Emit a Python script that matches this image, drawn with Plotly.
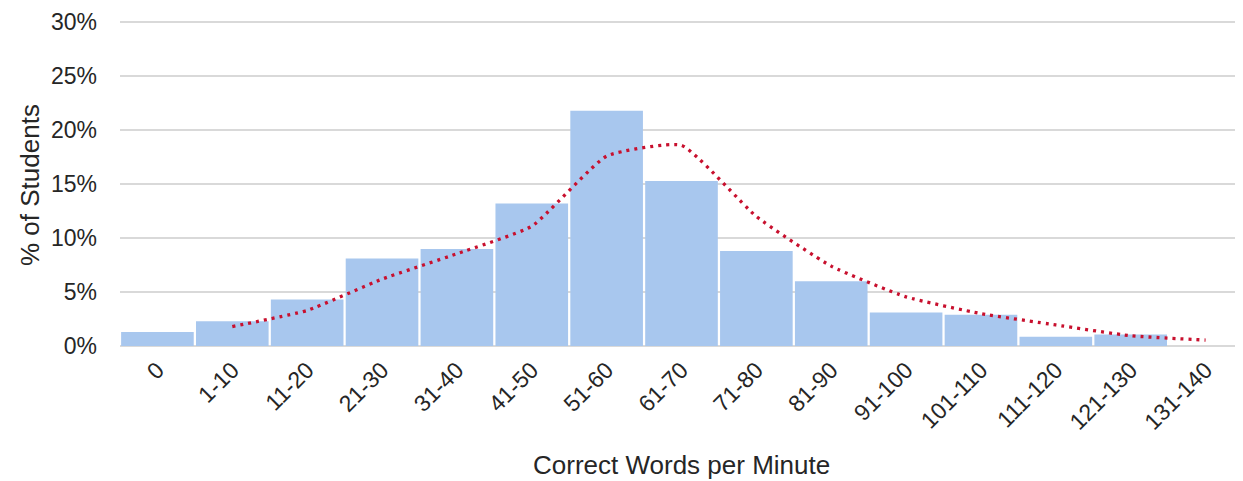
import plotly.graph_objects as go

categories = ["0", "1-10", "11-20", "21-30", "31-40", "41-50", "51-60", "61-70",
              "71-80", "81-90", "91-100", "101-110", "111-120", "121-130", "131-140"]
pct_students = [1.3, 2.3, 4.3, 8.1, 9.0, 13.2, 21.8, 15.3, 8.8, 6.0, 3.1, 2.9, 0.85, 1.06, 0]
trend_categories = categories[1:]
trend_values = [1.8, 3.3, 6.2, 8.55, 11.1, 17.6, 18.6, 12.0, 7.4, 4.55, 3.0, 1.95, 0.95, 0.55]
y_ticks = [0, 5, 10, 15, 20, 25, 30]
y_tick_labels = [f"{v}%" for v in y_ticks]

font_family = "Liberation Sans, Arial, sans-serif"
text_color = "#262626"

W, H = 1235, 473
ML, MR, MT, MB = 112, 0, 13, 135
plot_w = W - ML - MR
plot_h = H - MT - MB

fig = go.Figure()
fig.add_trace(go.Bar(
    x=categories, y=pct_students,
    marker=dict(color="#A8C7EE", line=dict(width=0)),
    showlegend=False, hoverinfo="x+y",
))
fig.add_trace(go.Scatter(
    x=trend_categories, y=trend_values, mode="lines",
    line=dict(color="#C8102E", width=3.3, dash="3px,5px", shape="spline", smoothing=0.45),
    showlegend=False,
))

fig.update_layout(
    width=W, height=H,
    margin=dict(l=ML, r=MR, t=MT, b=MB),
    paper_bgcolor="white", plot_bgcolor="white",
    bargap=0.03,
    font=dict(family=font_family, size=23, color=text_color),
    xaxis=dict(
        type="category", tickangle=-45, showgrid=False, automargin=False,
        showline=False, ticks="", tickfont=dict(size=23, color=text_color),
        ticklabelstandoff=5,
        range=[-0.5, 14.5],
    ),
    yaxis=dict(
        range=[0, 30.12], tickvals=y_ticks, ticktext=y_tick_labels, automargin=False,
        showgrid=True, gridcolor="#D9D9D9", gridwidth=1.5,
        zeroline=True, zerolinecolor="#D9D9D9", zerolinewidth=1.5,
        showline=False, ticks="", ticklabelstandoff=22,
        tickfont=dict(size=23, color=text_color),
    ),
    annotations=[
        dict(text="Correct Words per Minute",
             x=0.5, y=(plot_h + MT - 457) / plot_h, xref="paper", yref="paper",
             xanchor="center", yanchor="middle",
             showarrow=False, font=dict(size=26, color=text_color)),
        dict(text="% of Students",
             x=(22 - ML) / plot_w, y=(plot_h + MT - 177) / plot_h, xref="paper", yref="paper",
             xanchor="center", yanchor="middle",
             showarrow=False, textangle=-90, font=dict(size=26, color=text_color)),
    ],
)

fig.write_html("out.html")
